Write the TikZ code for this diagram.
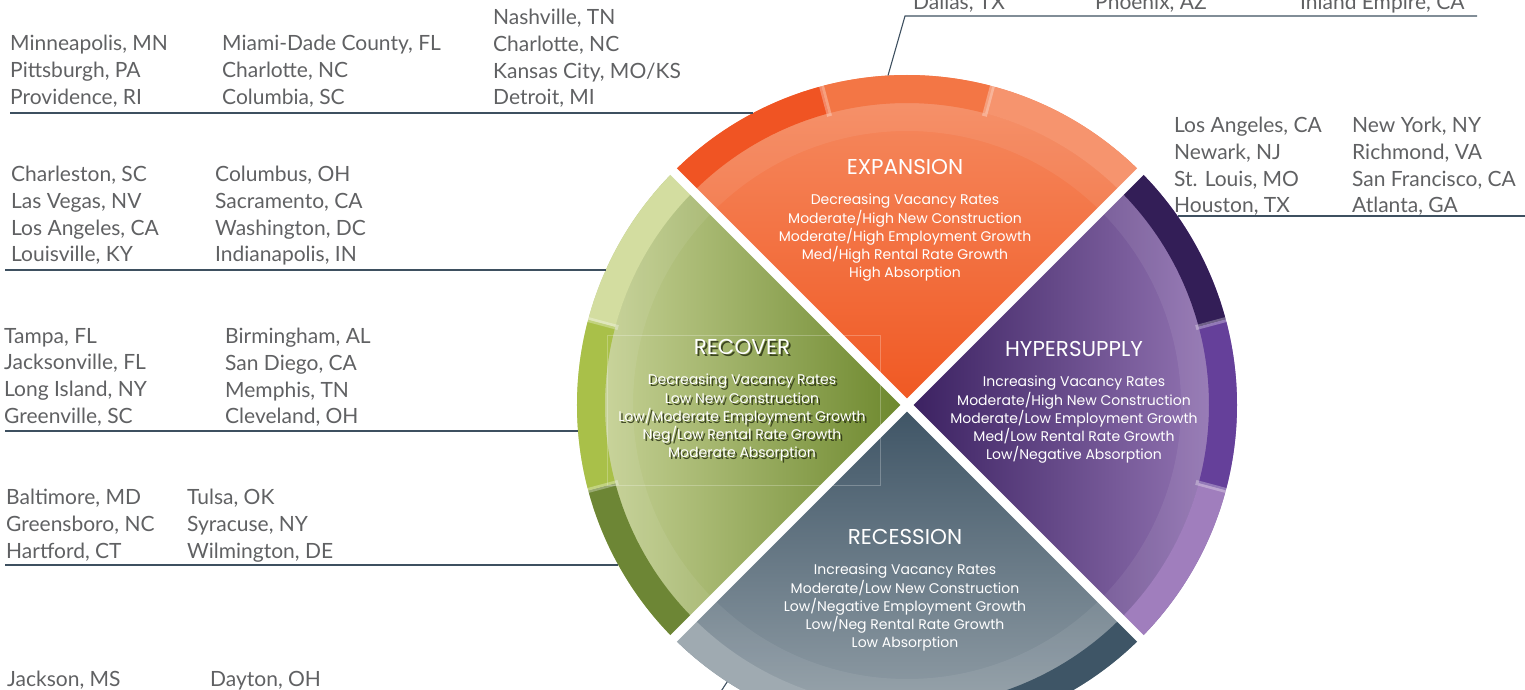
\documentclass[tikz,border=0pt]{standalone}
\usepackage{fontspec}
\usepackage{tikz}
\usetikzlibrary{positioning,calc}
\newfontfamily\cityfont{Lato}
\newfontfamily\phasefont{Poppins}
\definecolor{citygray}{RGB}{96,97,99}
\definecolor{leadline}{RGB}{62,80,96}
\definecolor{expdark}{RGB}{240,84,35}
\definecolor{expmid}{RGB}{243,118,69}
\definecolor{explight}{RGB}{246,148,110}
\definecolor{exptop}{RGB}{246,146,106}
\definecolor{expbot}{RGB}{240,88,34}
\definecolor{recvlight}{RGB}{211,221,160}
\definecolor{recvmid}{RGB}{169,192,73}
\definecolor{recvdark}{RGB}{109,134,53}
\definecolor{recvleft}{RGB}{214,223,168}
\definecolor{recvright}{RGB}{108,135,44}
\definecolor{recvshadow}{RGB}{35,42,15}
\definecolor{hypdark}{RGB}{51,30,87}
\definecolor{hypmid}{RGB}{101,64,154}
\definecolor{hyplight}{RGB}{160,126,189}
\definecolor{hypleft}{RGB}{58,32,96}
\definecolor{hypright}{RGB}{163,132,194}
\definecolor{rcslight}{RGB}{159,170,177}
\definecolor{rcsmid}{RGB}{110,128,140}
\definecolor{rcsdark}{RGB}{62,85,102}
\definecolor{rcstop}{RGB}{62,84,101}
\definecolor{rcsbot}{RGB}{160,171,178}

\begin{document}
\begin{tikzpicture}[x=1pt,y=1pt,
  city/.style={font=\cityfont\fontsize{21}{26.7}\selectfont, text=citygray, align=left, anchor=north west, inner sep=0pt},
  phasetitle/.style={font=\phasefont\fontsize{21.5}{24}\selectfont, text=white, inner sep=0pt},
  phasebody/.style={font=\phasefont\fontsize{14}{18.3}\selectfont, text=white, align=center, inner sep=0pt},
  shadowtext/.style={text=recvshadow, opacity=0.8},
  leader/.style={draw=leadline, line width=1.1pt},
 ]
\useasboundingbox (-907,-284) rectangle (618,405);
\clip (-907,-284) rectangle (618,405);

% the four phases
\shade[top color=exptop, bottom color=expbot] (0,0) -- (135:330) arc[start angle=135, end angle=45, radius=330pt] -- cycle;
\shade[left color=hypleft, right color=hypright] (0,0) -- (45:330) arc[start angle=45, end angle=-45, radius=330pt] -- cycle;
\shade[top color=rcstop, bottom color=rcsbot] (0,0) -- (-45:330) arc[start angle=-45, end angle=-135, radius=330pt] -- cycle;
\shade[left color=recvleft, right color=recvright] (0,0) -- (225:330) arc[start angle=225, end angle=135, radius=330pt] -- cycle;
\fill[white, opacity=0.07, even odd rule] (0,0) circle[radius=302pt] (0,0) circle[radius=274pt];

% outer ring
\foreach \a/\b/\c in {135/105/expdark, 105/75/expmid, 75/45/explight,
                      45/15/hypdark, 15/-15/hypmid, -15/-45/hyplight,
                      -45/-75/rcsdark, -75/-105/rcsmid, -105/-135/rcslight,
                      225/195/recvdark, 195/165/recvmid, 165/135/recvlight}
  \fill[\c] (\a:302) arc[start angle=\a, end angle=\b, radius=302pt] -- (\b:330) arc[start angle=\b, end angle=\a, radius=330pt] -- cycle;
\foreach \a in {105,75,15,-15,-75,-105,165,195}
  \draw[white, opacity=0.3, line width=5pt] (\a:299) -- (\a:331);
\draw[white, line width=9pt] (135:345) -- (-45:345);
\draw[white, line width=9pt] (45:345) -- (225:345);
\draw[white, opacity=0.25, line width=0.8pt] (-300,70) rectangle (-27,-80);

% phase texts
\node[phasetitle] (expT) at (-2,238) {EXPANSION};
\node[phasebody, below=19pt of expT] (expB) {Decreasing Vacancy Rates\\Moderate/High New Construction\\Moderate/High Employment Growth\\Med/High Rental Rate Growth\\High Absorption};

\node[phasetitle] (hypT) at (167,56) {HYPERSUPPLY};
\node[phasebody, below=19pt of hypT] (hypB) {Increasing Vacancy Rates\\Moderate/High New Construction\\Moderate/Low Employment Growth\\Med/Low Rental Rate Growth\\Low/Negative Absorption};

\node[phasetitle] (rcsT) at (-2,-132) {RECESSION};
\node[phasebody, below=19pt of rcsT] (rcsB) {Increasing Vacancy Rates\\Moderate/Low New Construction\\Low/Negative Employment Growth\\Low/Neg Rental Rate Growth\\Low Absorption};

\node[phasetitle, shadowtext] (recTs) at (-163,56) {RECOVER};
\node[phasebody, shadowtext, below=19pt of recTs] (recBs) {Decreasing Vacancy Rates\\Low New Construction\\Low/Moderate Employment Growth\\Neg/Low Rental Rate Growth\\Moderate Absorption};
\node[phasetitle] (recT) at (-165,58) {RECOVER};
\node[phasebody, below=19pt of recT] (recB) {Decreasing Vacancy Rates\\Low New Construction\\Low/Moderate Employment Growth\\Neg/Low Rental Rate Growth\\Moderate Absorption};

% leader lines
\coordinate (ringTR) at (93.3:330);
\coordinate (kneeTR) at (-2,389);
\coordinate (endTR) at (570,389);
\coordinate (ringA) at (-153.7,292);
\coordinate (endA) at (-897,292);
\coordinate (ringR) at (270.5,189);
\coordinate (endR) at (618,189);
\coordinate (ringL2) at (-301.1,135);
\coordinate (endL2) at (-902,135);
\coordinate (ringL3) at (-329,-26);
\coordinate (endL3) at (-902,-26);
\coordinate (ringL4) at (-288.6,-160);
\coordinate (endL4) at (-902,-160);
\coordinate (ringBt) at (237:330);
\coordinate (kneeBt) at (-195,-300);
\coordinate (endBt) at (-902,-300);

\draw[leader] (ringTR) -- (kneeTR) -- (endTR);
\draw[leader] (ringA) -- (endA);
\draw[leader] (ringR) -- (endR);
\draw[leader] (ringL2) -- (endL2);
\draw[leader] (ringL3) -- (endL3);
\draw[leader] (ringL4) -- (endL4);
\draw[leader] (ringBt) -- (kneeBt) -- (endBt);

% markets
\node[city] (cTR1) at (6,411) {Dallas, TX};
\node[city] (cTR2) at (188,411) {Phoenix, AZ};
\node[city] (cTR3) at (393,411) {Inland Empire, CA};

\node[city] (cA1) at (-897,370) {Minneapolis, MN\\Pittsburgh, PA\\Providence, RI};
\node[city] (cA2) at (-685,370) {Miami-Dade County, FL\\Charlotte, NC\\Columbia, SC};
\node[city] (cA3) at (-414,396) {Nashville, TN\\Charlotte, NC\\Kansas City, MO/KS\\Detroit, MI};

\node[city] (cR1) at (267,288) {Los Angeles, CA\\Newark, NJ\\St. Louis, MO\\Houston, TX};
\node[city] (cR2) at (445,288) {New York, NY\\Richmond, VA\\San Francisco, CA\\Atlanta, GA};

\node[city] (cL21) at (-896,239) {Charleston, SC\\Las Vegas, NV\\Los Angeles, CA\\Louisville, KY};
\node[city] (cL22) at (-692,239) {Columbus, OH\\Sacramento, CA\\Washington, DC\\Indianapolis, IN};

\node[city] (cL31) at (-903,77) {Tampa, FL\\Jacksonville, FL\\Long Island, NY\\Greenville, SC};
\node[city] (cL32) at (-682,77) {Birmingham, AL\\San Diego, CA\\Memphis, TN\\Cleveland, OH};

\node[city] (cL41) at (-901,-84) {Baltimore, MD\\Greensboro, NC\\Hartford, CT};
\node[city] (cL42) at (-720,-84) {Tulsa, OK\\Syracuse, NY\\Wilmington, DE};

\node[city] (cB1) at (-900,-266) {Jackson, MS};
\node[city] (cB2) at (-697,-266) {Dayton, OH};

\end{tikzpicture}
\end{document}
